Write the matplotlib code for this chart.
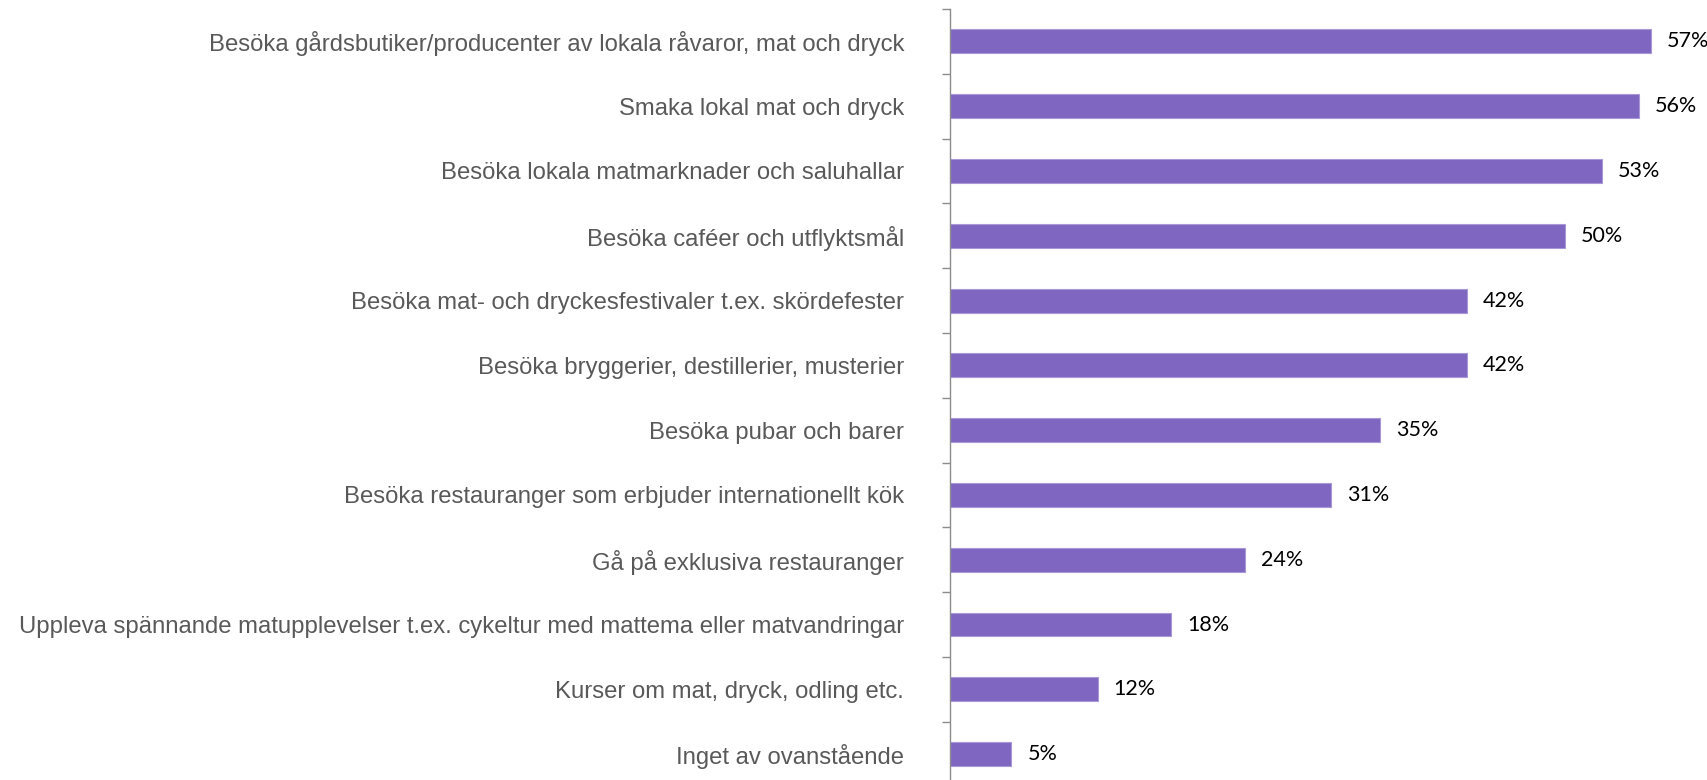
import matplotlib.pyplot as plt
from matplotlib.ticker import FixedLocator

categories = [
    "Besöka gårdsbutiker/producenter av lokala råvaror, mat och dryck",
    "Smaka lokal mat och dryck",
    "Besöka lokala matmarknader och saluhallar",
    "Besöka caféer och utflyktsmål",
    "Besöka mat- och dryckesfestivaler t.ex. skördefester",
    "Besöka bryggerier, destillerier, musterier",
    "Besöka pubar och barer",
    "Besöka restauranger som erbjuder internationellt kök",
    "Gå på exklusiva restauranger",
    "Uppleva spännande matupplevelser t.ex. cykeltur med mattema eller matvandringar",
    "Kurser om mat, dryck, odling etc.",
    "Inget av ovanstående",
]
values = [57, 56, 53, 50, 42, 42, 35, 31, 24, 18, 12, 5]

W, H = 1708, 780
fig = plt.figure(figsize=(W / 100, H / 100), dpi=100)
# axes placed in pixel terms: left spine at x=950, top at y=9
ax = fig.add_axes([950 / W, 0, 738 / W, 771 / H])

pos = list(range(len(categories)))
ax.barh(pos, values, height=0.37, color="#7e66c1", edgecolor="#a898d8", linewidth=0.8)

ax.set_xlim(0, 60)
ax.set_ylim(11.4, -0.5)

for y, v in zip(pos, values):
    ax.text(v + 1.3, y, f"{v}%", va="center", ha="left", fontsize=15.5,
            family=["Lato", "DejaVu Sans"], color="black")

ax.set_yticks(pos)
ax.set_yticklabels(categories, fontsize=17.2, color="#595959",
                   family=["Liberation Sans", "DejaVu Sans"])
ax.tick_params(axis="y", which="major", length=0, pad=33)
ax.yaxis.set_minor_locator(FixedLocator([i - 0.5 for i in range(len(categories) + 1)]))
ax.tick_params(axis="y", which="minor", length=6, color="#8c8c8c", width=1)

ax.set_xticks([])
for s in ["top", "right", "bottom"]:
    ax.spines[s].set_visible(False)
ax.spines["left"].set_color("#8c8c8c")
ax.spines["left"].set_linewidth(1)

fig.savefig("out.png", dpi=100)
